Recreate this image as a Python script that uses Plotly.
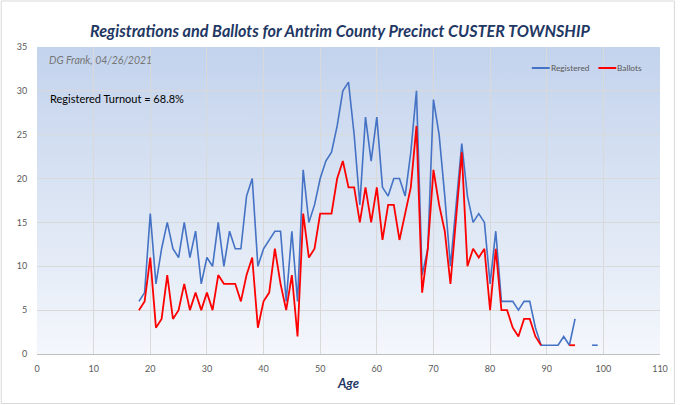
import base64
import plotly.graph_objects as go

# ---------------- data ----------------
ages = list(range(18, 100))
registered = [6, 7, 16, 8, 12, 15, 12, 11, 15, 11, 14, 8,          # 18-29
              11, 10, 15, 10, 14, 12, 12, 18, 20, 10,              # 30-39
              12, 13, 14, 14, 6, 14, 6, 21, 15, 17,                # 40-49
              20, 22, 23, 26, 30, 31, 25, 17, 27, 22,              # 50-59
              27, 19, 18, 20, 20, 18, 23, 30, 9, 12,               # 60-69
              29, 25, 18, 10, 17, 24, 18, 15, 16, 15,              # 70-79
              8, 14, 6, 6, 6, 5, 6, 6, 3, 1,                       # 80-89
              1, 1, 1, 2, 1, 4, None, None, 1, 1]                  # 90-99
ballots = [5, 6, 11, 3, 4, 9, 4, 5, 8, 5, 7, 5,                    # 18-29
           7, 5, 9, 8, 8, 8, 6, 9, 11, 3,                          # 30-39
           6, 7, 12, 8, 5, 9, 2, 16, 11, 12,                       # 40-49
           16, 16, 16, 20, 22, 19, 19, 15, 19, 15,                 # 50-59
           19, 13, 17, 17, 13, 16, 19, 26, 7, 12,                  # 60-69
           21, 17, 14, 8, 16, 23, 10, 12, 11, 12,                  # 70-79
           5, 12, 5, 5, 3, 2, 4, 4, 2, 1,                          # 80-89
           None, None, None, None, 1, 1, None, None, None, None]   # 90-99
x_ticks = list(range(0, 111, 10))
y_ticks = list(range(0, 36, 5))

title_text = "Registrations and Ballots for Antrim County Precinct CUSTER TOWNSHIP"
credit_text = "DG Frank, 04/26/2021"
turnout_text = "Registered Turnout = 68.8%"

# ---------------- styling ----------------
BLUE = "#4472C4"
RED = "#FF0000"
FONT = "Lato, 'Open Sans', sans-serif"

W, H = 680, 405
L, R, T, B = 37, 16, 47, 51
pw, ph = W - L - R, H - T - B


def px_x(x):
    return (x - L) / pw


def px_y(y):
    return (H - B - y) / ph


svg = ('<svg xmlns="http://www.w3.org/2000/svg" width="20" height="200" preserveAspectRatio="none">'
       '<defs><linearGradient id="g" x1="0" y1="0" x2="0" y2="1">'
       '<stop offset="0" stop-color="#c3d3ed"/><stop offset="0.55" stop-color="#dde6f4"/>'
       '<stop offset="1" stop-color="#f4f7fc"/></linearGradient></defs>'
       '<rect width="20" height="200" fill="url(#g)"/></svg>')
svg_uri = "data:image/svg+xml;base64," + base64.b64encode(svg.encode()).decode()

fig = go.Figure()
fig.add_trace(go.Scatter(x=ages, y=registered, mode="lines", name="Registered",
                         line=dict(color=BLUE, width=1.6), connectgaps=False,
                         showlegend=False))
fig.add_trace(go.Scatter(x=ages, y=ballots, mode="lines", name="Ballots",
                         line=dict(color=RED, width=1.8), connectgaps=False,
                         showlegend=False))

shapes = [
    # outer frame
    dict(type="rect", xref="paper", yref="paper",
         x0=px_x(1), x1=px_x(678.5), y0=px_y(403.5), y1=px_y(1),
         line=dict(color="#d9d9d9", width=1), fillcolor="rgba(0,0,0,0)", layer="below"),
    # legend lines
    dict(type="line", xref="paper", yref="paper",
         x0=px_x(535), x1=px_x(553), y0=px_y(68), y1=px_y(68),
         line=dict(color=BLUE, width=2)),
    dict(type="line", xref="paper", yref="paper",
         x0=px_x(602), x1=px_x(620), y0=px_y(68), y1=px_y(68),
         line=dict(color=RED, width=2)),
]

annotations = [
    dict(text="<b><i>" + title_text + "</i></b>", xref="paper", yref="paper",
         x=px_x(342), y=px_y(31), xanchor="center", yanchor="middle", showarrow=False,
         font=dict(family=FONT, size=16.2, color="#1f3864")),
    dict(text="<i>" + credit_text + "</i>", xref="paper", yref="paper",
         x=px_x(47), y=px_y(60), xanchor="left", yanchor="middle", showarrow=False,
         font=dict(family=FONT, size=10.5, color="#757575")),
    dict(text=turnout_text, xref="paper", yref="paper",
         x=px_x(48), y=px_y(99), xanchor="left", yanchor="middle", showarrow=False,
         font=dict(family=FONT, size=11, color="#000000")),
    dict(text="Registered", xref="paper", yref="paper",
         x=px_x(552), y=px_y(68), xanchor="left", yanchor="middle", showarrow=False,
         font=dict(family=FONT, size=8.3, color="#595959")),
    dict(text="Ballots", xref="paper", yref="paper",
         x=px_x(619), y=px_y(68), xanchor="left", yanchor="middle", showarrow=False,
         font=dict(family=FONT, size=8.3, color="#595959")),
]

fig.update_layout(
    width=W, height=H,
    margin=dict(l=L, r=R, t=T, b=B),
    paper_bgcolor="white",
    plot_bgcolor="rgba(0,0,0,0)",
    font=dict(family=FONT, size=9, color="#595959"),
    shapes=shapes,
    annotations=annotations,
    images=[dict(source=svg_uri, xref="paper", yref="paper", x=0, y=1,
                 sizex=1, sizey=1, xanchor="left", yanchor="top",
                 sizing="stretch", layer="below")],
    xaxis=dict(range=[0, 110], tickvals=x_ticks, showgrid=True, gridcolor="#d9d9d9",
               gridwidth=1, zeroline=False, showline=True, linecolor="#bfbfbf",
               ticks="outside", ticklen=6, tickcolor="rgba(0,0,0,0)",
               tickfont=dict(family=FONT, size=9, color="#595959"),
               title=dict(text="<b><i>Age</i></b>", standoff=6,
                          font=dict(family=FONT, size=13, color="#1f3864")),
               fixedrange=True),
    yaxis=dict(range=[0, 35], tickvals=y_ticks, showgrid=True, gridcolor="#d9d9d9",
               gridwidth=1, zeroline=False, showline=False,
               ticks="outside", ticklen=7, tickcolor="rgba(0,0,0,0)",
               tickfont=dict(family=FONT, size=9, color="#595959"),
               fixedrange=True),
)

fig.write_html("out.html", config={"displayModeBar": False},
               post_script="document.body.style.margin='0';")
